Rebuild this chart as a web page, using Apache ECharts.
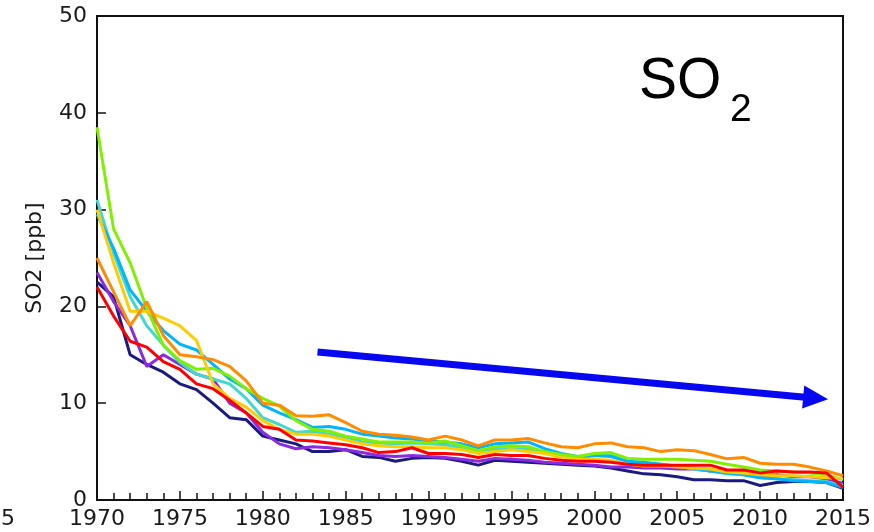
<!DOCTYPE html>
<html>
<head>
<meta charset="utf-8">
<script src="https://cdn.jsdelivr.net/npm/echarts@6/dist/echarts.min.js"></script>
<style>html,body{margin:0;padding:0;background:#fff}#c{width:874px;height:532px}</style>
</head>
<body>
<div id="c"></div>
<script>
const years = [];
for (let y = 1970; y <= 2015; y++) years.push(y);

const navy = [22.5,21,15,14,13.2,12,11.4,10,8.5,8.3, 6.6,6.2,5.8,5.0,5.0,5.2,4.5,4.4,4.0,4.3, 4.4,4.3,4.0,3.6,4.1,4.0,3.9,3.8,3.7,3.6, 3.5,3.3,3.0,2.7,2.6,2.4,2.1,2.1,2.0,2.0, 1.5,1.8,1.9,1.9,1.8,1.2];
const purple = [23.5,20.5,18,13.8,15,14,13,12.5,10,9, 7,5.8,5.3,5.5,5.4,5.2,4.9,4.6,4.5,4.6, 4.5,4.4,4.2,4.0,4.3,4.2,4.1,3.9,3.8,3.7, 3.6,3.4,3.4,3.3,3.3,3.2,3.2,3.0,2.9,2.8, 2.5,2.6,2.4,2.4,2.2,1.7];
const turquoise = [31,25.5,21,18,16,14.2,13,12.5,12,10.5, 8.5,7.8,7,7.1,6.8,6.5,6.0,5.9,5.8,5.9, 5.8,5.7,5.4,5.0,5.3,5.3,5.3,4.9,4.5,4.3, 4.6,4.7,3.9,3.8,3.7,3.5,3.2,3.0,2.7,2.6, 2.3,2.2,2.1,2.0,1.9,1.5];
const skyblue = [29.5,26,21.7,19.5,17.5,16.1,15.5,14,12.5,11.5, 9.8,9,8.3,7.5,7.6,7.3,6.8,6.6,6.4,6.3, 6.1,6.0,5.8,5.4,5.8,5.9,6.0,5.3,4.8,4.5, 4.6,4.5,4.0,3.9,3.7,3.5,3.3,3.0,2.8,2.6, 2.3,2.2,2.0,1.9,1.8,1.3];
const green = [38.5,28,24.5,19.8,16,14.4,13.5,13.6,12.8,11.5, 10.5,9.7,8.2,7.3,7.1,6.6,6.3,6.0,6.0,6.0, 5.9,6.1,5.6,5.1,5.5,5.6,5.5,5.0,4.7,4.5, 4.8,4.9,4.3,4.2,4.2,4.2,4.1,4.0,3.7,3.4, 3.1,3.0,2.9,2.8,2.6,2.1];
const yellow = [30,24.5,19.5,19.5,18.8,18,16.5,12,10.5,9.6, 8.2,7.3,6.8,6.8,6.6,6.2,5.8,5.6,5.5,5.5, 5.4,5.4,5.2,4.8,5.0,5.2,5.0,4.8,4.4,4.2, 4.2,4.1,3.7,3.5,3.5,3.4,3.3,3.2,2.9,2.8, 2.6,2.5,2.5,2.4,2.3,2.2];
const orange = [25,21.5,18,20.5,17,15,14.8,14.5,13.8,12.3, 10,9.8,8.7,8.65,8.8,8.0,7.1,6.8,6.7,6.5, 6.2,6.6,6.2,5.6,6.2,6.2,6.35,5.9,5.5,5.4, 5.8,5.9,5.5,5.4,5.0,5.2,5.1,4.7,4.25,4.4, 3.8,3.7,3.7,3.4,3.0,2.5];
const red = [22,19,16.4,15.8,14.3,13.5,12,11.5,10.3,9, 7.6,7.3,6.2,6.1,5.9,5.7,5.4,4.9,5.0,5.4, 4.8,4.8,4.7,4.4,4.7,4.6,4.6,4.3,4.1,4.0, 4.0,3.9,3.7,3.6,3.6,3.6,3.6,3.6,3.1,3.1, 2.8,3.0,2.9,2.9,2.8,1.3];

const seriesNames = ['navy','purple','turquoise','skyblue','green','yellow','orange','red'];
const seriesValues = [navy, purple, turquoise, skyblue, green, yellow, orange, red];
const seriesColors = ['#1a1a80','#8a2be2','#40d8d0','#00b4ff','#80f000','#ffcc00','#ff8c00','#ff0000'];

const arrowFrom = [1983.3, 15.3];
const arrowTo = [2014.1, 10.4];

const chart = echarts.init(document.getElementById('c'), null, {renderer:'canvas'});
const font = 'DejaVu Sans';
chart.setOption({
  animation: false,
  backgroundColor: '#fff',
  grid: {left: 97, right: 30, top: 16, bottom: 32, show: true, borderColor: '#111', borderWidth: 2},
  xAxis: {
    type: 'value', min: 1970, max: 2015, interval: 5,
    axisLine: {show: true, lineStyle: {color: '#111', width: 2}},
    axisTick: {show: true, inside: true, length: 9, lineStyle: {color: '#111', width: 1.5}},
    minorTick: {show: true, splitNumber: 5, length: 7, lineStyle: {color: '#111', width: 1.5}},
    splitLine: {show: false},
    axisLabel: {fontFamily: font, fontSize: 22, color: '#1a1a1a', margin: 8,
      formatter: v => String(v)}
  },
  yAxis: {
    type: 'value', min: 0, max: 50, interval: 10,
    name: 'SO2 [ppb]', nameLocation: 'middle', nameGap: 51, nameRotate: 90,
    nameTextStyle: {fontFamily: font, fontSize: 22, color: '#1a1a1a'},
    axisLine: {show: true, lineStyle: {color: '#111', width: 2}},
    axisTick: {show: true, inside: true, length: 9, lineStyle: {color: '#111', width: 1.5}},
    splitLine: {show: false},
    axisLabel: {fontFamily: font, fontSize: 22, color: '#1a1a1a', margin: 10}
  },
  series: seriesNames.map((n, i) => ({
    name: n, type: 'line', showSymbol: false, symbol: 'none',
    data: years.map((y, j) => [y, seriesValues[i][j]]),
    lineStyle: {color: seriesColors[i], width: 3},
    itemStyle: {color: seriesColors[i]}
  }))
});

function drawOverlay() {
  const p0 = chart.convertToPixel({gridIndex: 0}, arrowFrom);
  const p1 = chart.convertToPixel({gridIndex: 0}, arrowTo);
  const dx = p1[0] - p0[0], dy = p1[1] - p0[1];
  const L = Math.sqrt(dx*dx + dy*dy);
  const ux = dx / L, uy = dy / L;
  const headLen = 25, headHalf = 11.5;
  const bx = p1[0] - ux * headLen, by = p1[1] - uy * headLen;
  chart.setOption({
    graphic: [
      {type: 'line', z: 100, shape: {x1: p0[0], y1: p0[1], x2: bx + ux*2, y2: by + uy*2},
        style: {stroke: '#0808f0', lineWidth: 7}},
      {type: 'polygon', z: 100, shape: {points: [[p1[0], p1[1]], [bx - uy*headHalf, by + ux*headHalf], [bx + uy*headHalf, by - ux*headHalf]]},
        style: {fill: '#0808f0'}},
      {type: 'text', z: 100, left: 639, top: 54,
        style: {text: 'SO', font: '57px "Liberation Sans", Arial, sans-serif', fill: '#000'}},
      {type: 'text', z: 100, left: 730, top: 91,
        style: {text: '2', font: '39px "Liberation Sans", Arial, sans-serif', fill: '#000'}},
      {type: 'text', z: 100, left: 1, top: 508,
        style: {text: '5', font: '22px "DejaVu Sans"', fill: '#1a1a1a'}}
    ]
  });
}
drawOverlay();
</script>
</body>
</html>
